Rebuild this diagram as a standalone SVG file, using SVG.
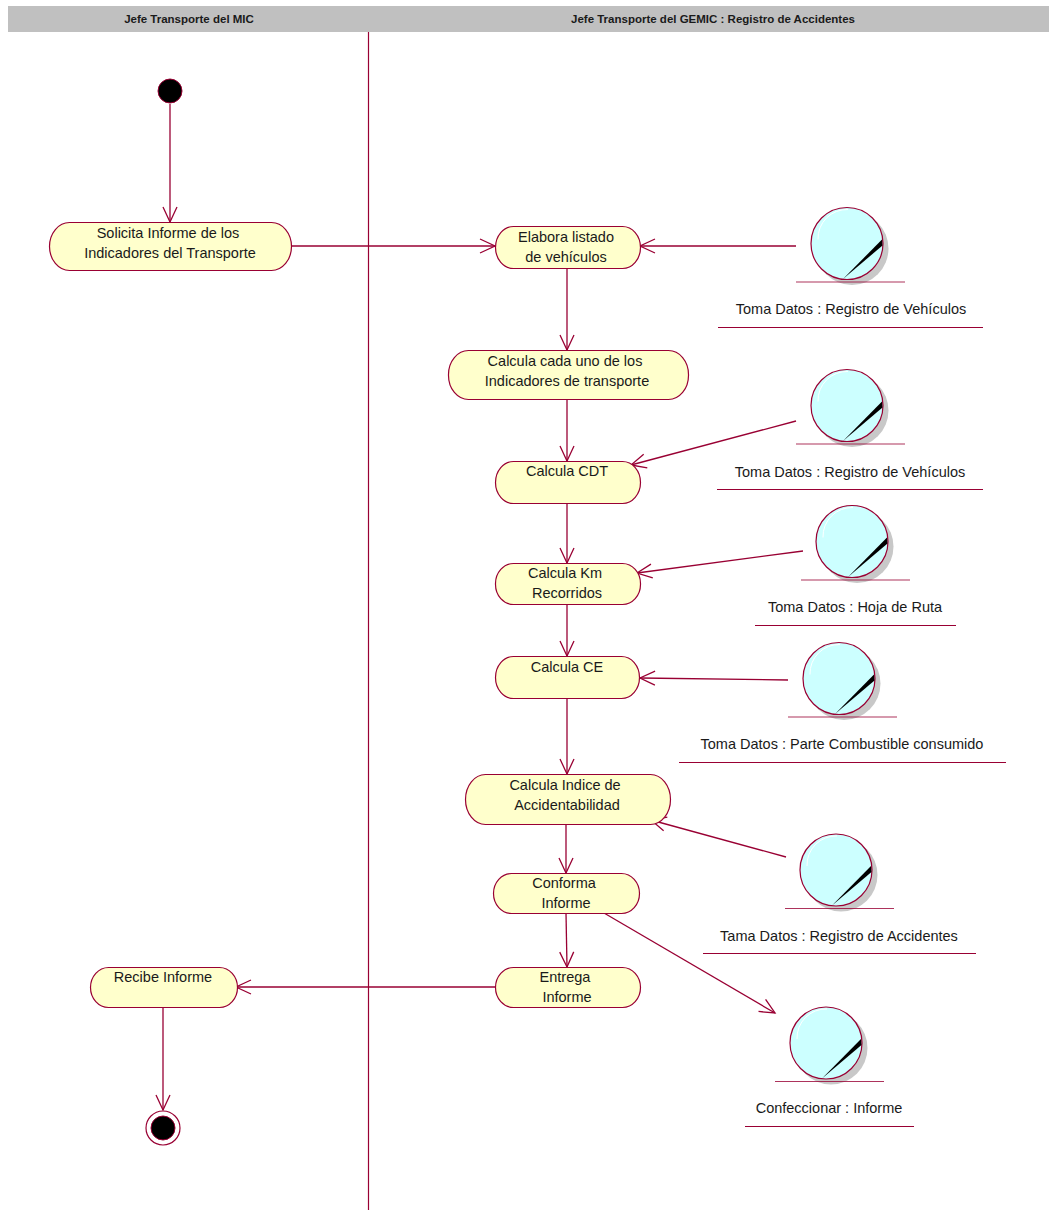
<svg xmlns="http://www.w3.org/2000/svg" xmlns:xlink="http://www.w3.org/1999/xlink" width="1049" height="1210" viewBox="0 0 1049 1210">
<style>
text{font-family:"Liberation Sans",Arial,sans-serif;fill:#1a1a1a;text-anchor:middle;font-size:14.5px}
.h{font-weight:bold;font-size:11.5px}
.a{fill:#ffffcc;stroke:#990033;stroke-width:1.2}
.c{fill:none;stroke:#990033;stroke-width:1.3}
.u{stroke:#990033;stroke-width:1.2;fill:none}
.b{stroke:#990033;stroke-width:1.2;fill:none;opacity:.8}
</style>
<defs>
<marker id="v" markerUnits="userSpaceOnUse" markerWidth="20" markerHeight="20" refX="16" refY="8" orient="auto">
<path d="M1 1L16 8L1 15" fill="none" stroke="#990033" stroke-width="1.3"/>
</marker>
<g id="obj">
<circle cx="5" cy="5" r="36.5" fill="#c8c8c8"/>
<circle r="36" fill="#ccffff" stroke="#990033" stroke-width="1.2"/>
<path d="M-29 -4A29 29 0 0 1 1 -34" fill="none" stroke="#fff" stroke-width="1"/>
<path d="M-4 35.500L35 -4L35.500 2Z" fill="#000"/>
<path d="M-51 38.500H58" class="b"/>
</g>
</defs>
<rect x="8" y="6" width="1041" height="26" fill="#c0c0c0"/>
<text class="h" x="189" y="23">Jefe Transporte del MIC</text>
<text class="h" x="713" y="23">Jefe Transporte del GEMIC : Registro de Accidentes</text>
<path d="M368.500 32V1210" class="u"/>
<g id="connectors">
<path class="c" marker-end="url(#v)" d="M170 104V222"/>
<path class="c" marker-end="url(#v)" d="M279 246H495"/>
<path class="c" marker-end="url(#v)" d="M796 246H640"/>
<path class="c" marker-end="url(#v)" d="M567 268V350"/>
<path class="c" marker-end="url(#v)" d="M567 400V461"/>
<path class="c" marker-end="url(#v)" d="M796 421L631 465"/>
<path class="c" marker-end="url(#v)" d="M567 503V563"/>
<path class="c" marker-end="url(#v)" d="M803 551L637 573"/>
<path class="c" marker-end="url(#v)" d="M567 604V656"/>
<path class="c" marker-end="url(#v)" d="M788 680L640 678"/>
<path class="c" marker-end="url(#v)" d="M567 698V774"/>
<path class="c" marker-end="url(#v)" d="M786 857L651 820"/>
<path class="c" marker-end="url(#v)" d="M566 824V873"/>
<path class="c" marker-end="url(#v)" d="M566 913L567 967"/>
<path class="c" marker-end="url(#v)" d="M604 913L775 1013"/>
<path class="c" marker-end="url(#v)" d="M495 987H236"/>
<path class="c" marker-end="url(#v)" d="M163 1008V1110"/>
</g>
<g id="start"><circle cx="170" cy="91" r="12" fill="#000" stroke="#990033" stroke-width="1"/></g>
<g id="end"><circle cx="163" cy="1128" r="17" fill="#fff" stroke="#990033" stroke-width="1.2"/><circle cx="163" cy="1128" r="12" fill="#000" stroke="#990033" stroke-width="1"/></g>
<g id="a1"><rect class="a" x="49.500" y="222.500" width="242" height="48" rx="20" ry="24"/><text x="168" y="238">Solicita Informe de los</text><text x="170" y="258">Indicadores del Transporte</text></g>
<g id="a2"><rect class="a" x="495.500" y="226.500" width="145" height="42" rx="18" ry="21"/><text x="566" y="242">Elabora listado</text><text x="566" y="262">de vehículos</text></g>
<g id="a3"><rect class="a" x="448.500" y="350.500" width="240" height="49" rx="20" ry="24"/><text x="565" y="366">Calcula cada uno de los</text><text x="567" y="386">Indicadores de transporte</text></g>
<g id="a4"><rect class="a" x="495.500" y="461.500" width="145" height="42" rx="18" ry="21"/><text x="567" y="476">Calcula CDT</text></g>
<g id="a5"><rect class="a" x="495.500" y="563.500" width="145" height="41" rx="18" ry="20"/><text x="565" y="578">Calcula Km</text><text x="567" y="598">Recorridos</text></g>
<g id="a6"><rect class="a" x="495.500" y="656.500" width="144" height="42" rx="18" ry="21"/><text x="567" y="672">Calcula CE</text></g>
<g id="a7"><rect class="a" x="465.500" y="774.500" width="205" height="50" rx="20" ry="25"/><text x="565" y="790">Calcula Indice de</text><text x="567" y="810">Accidentabilidad</text></g>
<g id="a8"><rect class="a" x="493.500" y="873.500" width="146" height="40" rx="18" ry="20"/><text x="564" y="888">Conforma</text><text x="566" y="908">Informe</text></g>
<g id="a9"><rect class="a" x="495.500" y="967.500" width="145" height="40" rx="18" ry="20"/><text x="565" y="982">Entrega</text><text x="567" y="1002">Informe</text></g>
<g id="a10"><rect class="a" x="90.500" y="967.500" width="147" height="40" rx="18" ry="20"/><text x="163" y="982">Recibe Informe</text></g>
<g id="o1"><use xlink:href="#obj" href="#obj" x="847" y="243.500"/><text x="851" y="314">Toma Datos : Registro de Vehículos</text><path class="u" d="M718 327.500H983"/></g>
<g id="o2"><use xlink:href="#obj" href="#obj" x="847" y="405.500"/><text x="850" y="477">Toma Datos : Registro de Vehículos</text><path class="u" d="M717 489.500H983"/></g>
<g id="o3"><use xlink:href="#obj" href="#obj" x="852" y="541.500"/><text x="855" y="612">Toma Datos : Hoja de Ruta</text><path class="u" d="M755 625.500H956"/></g>
<g id="o4"><use xlink:href="#obj" href="#obj" x="839" y="678.500"/><text x="842" y="749">Toma Datos : Parte Combustible consumido</text><path class="u" d="M679 762.500H1006"/></g>
<g id="o5"><use xlink:href="#obj" href="#obj" x="836" y="870"/><text x="839" y="941">Tama Datos : Registro de Accidentes</text><path class="u" d="M703 953.500H976"/></g>
<g id="o6"><use xlink:href="#obj" href="#obj" x="826" y="1043"/><text x="829" y="1113">Confeccionar : Informe</text><path class="u" d="M745 1126.500H914"/></g>
</svg>
